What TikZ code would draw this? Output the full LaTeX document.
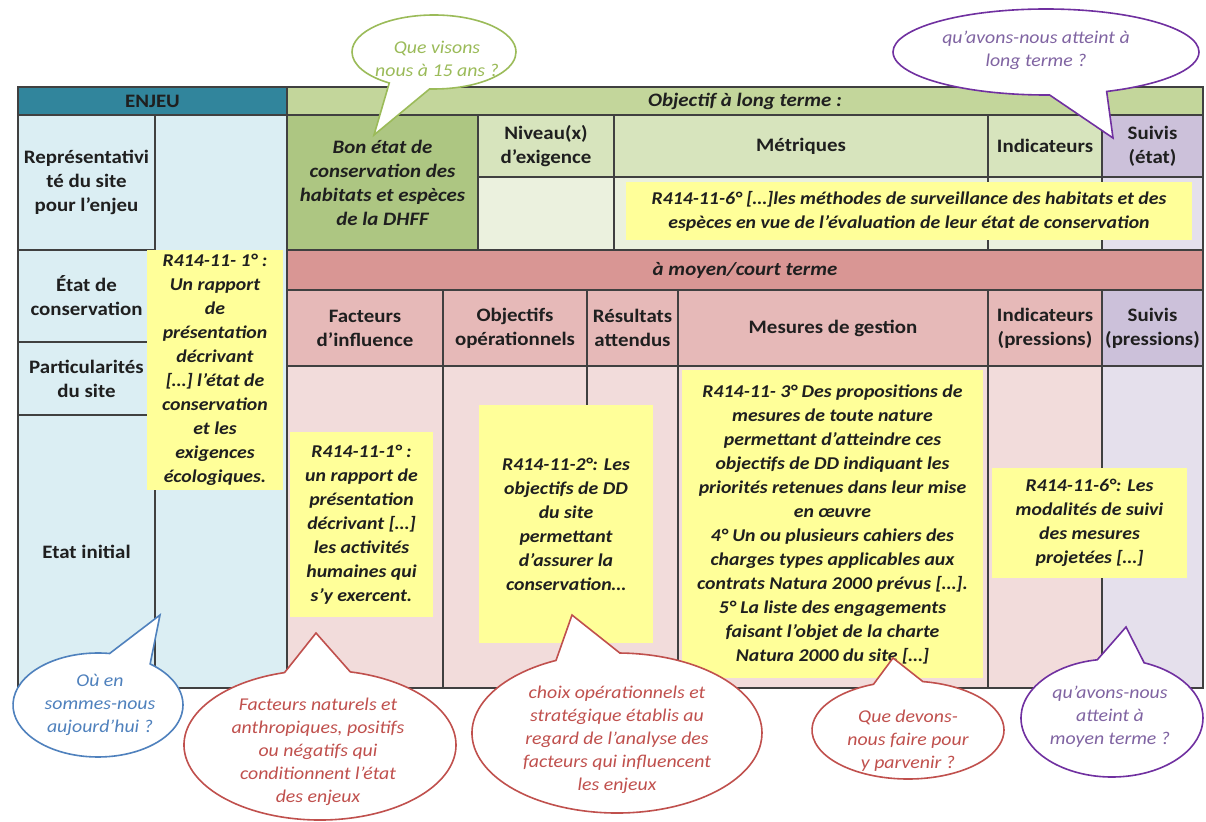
\documentclass[tikz,border=0pt]{standalone}
\usepackage{fontspec}
\setmainfont{Carlito}[FakeStretch=1.1]
\usetikzlibrary{shapes.callouts}
\definecolor{teal}{HTML}{31859C}
\definecolor{lblue}{HTML}{DBEEF3}
\definecolor{ghdr}{HTML}{C3D69B}
\definecolor{gbon}{HTML}{ADC682}
\definecolor{glhdr}{HTML}{D7E4BD}
\definecolor{glight}{HTML}{EBF1DE}
\definecolor{purp}{HTML}{CCC1DA}
\definecolor{lpurp}{HTML}{E5E0EC}
\definecolor{rband}{HTML}{D99694}
\definecolor{rhdr}{HTML}{E6B9B8}
\definecolor{rbody}{HTML}{F2DCDB}
\definecolor{yel}{HTML}{FFFF99}
\definecolor{gridc}{HTML}{404040}
\definecolor{txt}{HTML}{1F1F1F}
\definecolor{bgreen}{HTML}{9BBB59}
\definecolor{bpurple}{HTML}{7030A0}
\definecolor{tpurple}{HTML}{8064A2}
\definecolor{bblue}{HTML}{4F81BD}
\definecolor{bred}{HTML}{C0504D}
\newcommand\hdrfont{\fontsize{19}{24}\selectfont\bfseries}
\newcommand\yfont{\fontsize{18}{24}\selectfont\bfseries\itshape}
\newcommand\bfnt{\fontsize{18}{23}\selectfont\itshape}
% name, x1, y1, x2, y2, fill, text
\newcommand\tcell[7]{\node[cell,fill=#6,minimum width={#4-#2},minimum height={#5-#3}] (#1) at ({(#2+#4)/2},{(#3+#5)/2}) {#7};}
\newcommand\ybox[6]{\node[ybx,minimum width={#4-#2},minimum height={#5-#3}] (#1) at ({(#2+#4)/2},{(#3+#5)/2}) {#6};}
\begin{document}
\begin{tikzpicture}[x=1pt,y=-1pt,
  cell/.style={draw=gridc,line width=1.5pt,inner sep=0pt,align=center,text=txt,font=\hdrfont},
  ybx/.style={fill=yel,inner sep=0pt,align=center,text=txt,font=\yfont},
  bubble/.style={ellipse callout,fill=white,line width=1.6pt,inner sep=0pt},
  btext/.style={align=center,font=\bfnt,inner sep=0pt}]
\useasboundingbox (0,0) rectangle (1206,821);
\fill[white] (0,0) rectangle (1206,821);
% ENJEU part
\tcell{enjeu}{18}{87}{287}{115}{teal}{ENJEU}
\tcell{repr}{18}{115}{155}{250}{lblue}{Représentativi\\té du site\\pour l'enjeu}
\tcell{etat}{18}{250}{155}{342}{lblue}{État de\\conservation}
\tcell{partic}{18}{342}{155}{415}{lblue}{Particularités\\du site}
\tcell{initial}{18}{415}{155}{688}{lblue}{Etat initial}
\tcell{enjcol}{155}{115}{287}{688}{lblue}{}
% long term
\tcell{objlt}{287}{87}{1203}{115}{ghdr}{\itshape Objectif à long terme :}
\tcell{bon}{287}{115}{478}{250}{gbon}{\itshape Bon état de\\\itshape conservation des\\\itshape habitats et espèces\\\itshape de la DHFF}
\tcell{niv}{478}{115}{614}{177}{glhdr}{Niveau(x)\\d'exigence}
\tcell{nivb}{478}{177}{614}{250}{glight}{}
\tcell{metr}{614}{115}{988}{177}{glhdr}{Métriques}
\tcell{metrb}{614}{177}{988}{250}{glight}{}
\tcell{indlt}{988}{115}{1102}{177}{glhdr}{Indicateurs}
\tcell{indltb}{988}{177}{1102}{250}{glight}{}
\tcell{suilt}{1102}{115}{1203}{177}{purp}{Suivis\\(état)}
\tcell{suiltb}{1102}{177}{1203}{250}{lpurp}{}
% medium term
\tcell{mct}{287}{250}{1203}{290}{rband}{\itshape à moyen/court terme}
\tcell{fact}{287}{290}{443}{366}{rhdr}{Facteurs\\d'influence}
\tcell{objop}{443}{290}{587}{366}{rhdr}{Objectifs\\opérationnels}
\tcell{res}{587}{290}{678}{366}{rhdr}{Résultats\\attendus}
\tcell{mes}{678}{290}{988}{366}{rhdr}{Mesures de gestion}
\tcell{indmt}{988}{290}{1102}{366}{rhdr}{Indicateurs\\(pressions)}
\tcell{suimt}{1102}{290}{1203}{366}{purp}{Suivis\\(pressions)}
\tcell{factb}{287}{366}{443}{688}{rbody}{}
\tcell{objopb}{443}{366}{587}{688}{rbody}{}
\tcell{resb}{587}{366}{678}{688}{rbody}{}
\tcell{mesb}{678}{366}{988}{688}{rbody}{}
\tcell{indmtb}{988}{366}{1102}{688}{rbody}{}
\tcell{suimtb}{1102}{366}{1203}{688}{lpurp}{}
% yellow boxes
\ybox{y1}{147}{250}{283}{490}{R414-11- 1° :\\Un rapport\\de\\présentation\\décrivant\\{[…]} l'état de\\conservation\\et les\\exigences\\écologiques.}
\ybox{y6lt}{626}{182}{1192}{240}{R414-11-6° […]les méthodes de surveillance des habitats et des\\espèces en vue de l’évaluation de leur état de conservation}
\ybox{y1f}{290}{432}{433}{617}{R414-11-1° :\\un rapport de\\présentation\\décrivant {[…]}\\les activités\\humaines qui\\s’y exercent.}
\ybox{y2}{479}{405}{653}{643}{R414-11-2°: Les\\objectifs de DD\\du site\\permettant\\d’assurer la\\conservation…}
\ybox{y3}{682}{370}{983}{678}{R414-11- 3° Des propositions de\\mesures de toute nature\\permettant d’atteindre ces\\objectifs de DD indiquant les\\priorités retenues dans leur mise\\en œuvre\\4° Un ou plusieurs cahiers des\\charges types applicables aux\\contrats Natura 2000 prévus {[…]}.\\5° La liste des engagements\\faisant l'objet de la charte\\Natura 2000 du site {[…]}}
\ybox{y6mt}{992}{468}{1187}{578}{R414-11-6°: Les\\modalités de suivi\\des mesures\\projetées {[…]}}
% bubbles
\node[bubble,draw=bgreen,minimum width=164,minimum height=74,callout absolute pointer={(374,135)},callout pointer arc=30] (bgr) at (434,52) {};
\node[btext,text=bgreen] (bgrt) at (437,59) {Que visons\\nous à 15 ans ?};
\node[bubble,draw=bpurple,minimum width=306,minimum height=86,callout absolute pointer={(1113,138)},callout pointer arc=22] (bpt) at (1046,52) {};
\node[btext,text=tpurple] (bptt) at (1036,50) {qu’avons-nous atteint à\\long terme ?};
\node[bubble,draw=bblue,minimum width=170,minimum height=104,callout absolute pointer={(160,615)},callout pointer arc=30] (bbl) at (98,705) {};
\node[btext,text=bblue] (bblt) at (100,705) {Où en\\sommes-nous\\aujourd’hui ?};
\node[bubble,draw=bred,minimum width=272,minimum height=150,callout absolute pointer={(316,633)},callout pointer arc=28] (brf) at (320,745) {};
\node[btext,text=bred] (brft) at (318,752) {Facteurs naturels et\\anthropiques, positifs\\ou négatifs qui\\conditionnent l’état\\des enjeux};
\node[bubble,draw=bred,minimum width=290,minimum height=160,callout absolute pointer={(572,615)},callout pointer arc=26] (brc) at (617,733) {};
\node[btext,text=bred] (brct) at (617,740) {choix opérationnels et\\stratégique établis au\\regard de l’analyse des\\facteurs qui influencent\\les enjeux};
\node[bubble,draw=bred,minimum width=192,minimum height=98,callout absolute pointer={(893,658)},callout pointer arc=30] (brd) at (908,730) {};
\node[btext,text=bred] (brdt) at (908,741) {Que devons-\\nous faire pour\\y parvenir ?};
\node[bubble,draw=bpurple,minimum width=182,minimum height=118,callout absolute pointer={(1126,627)},callout pointer arc=30] (bpm) at (1112,718) {};
\node[btext,text=tpurple] (bpmt) at (1110,717) {qu’avons-nous\\atteint à\\moyen terme ?};
\end{tikzpicture}
\end{document}
